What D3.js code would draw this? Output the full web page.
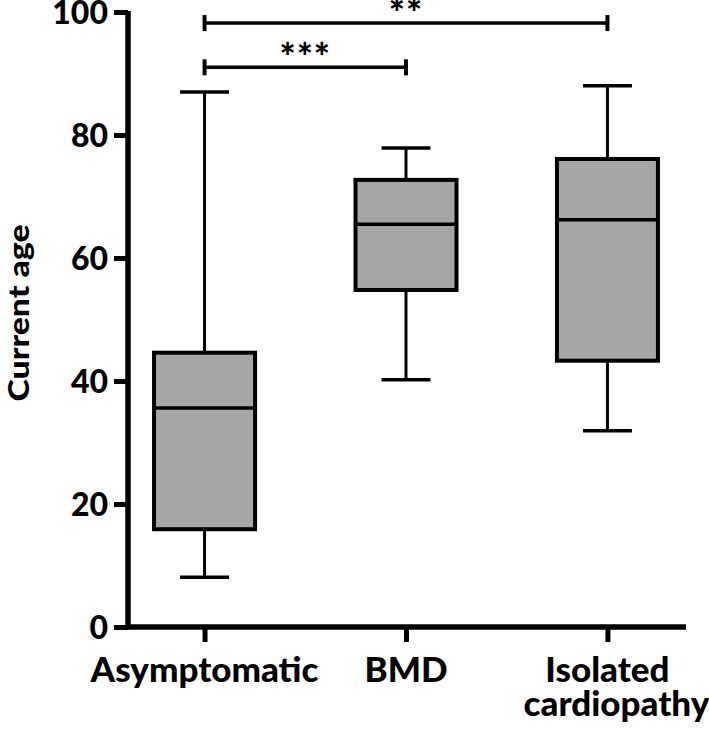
<!DOCTYPE html>
<html><head><meta charset="utf-8">
<script src="https://cdn.jsdelivr.net/npm/d3@7"></script>
<style>html,body{margin:0;padding:0;background:#fff;}svg{display:block;}
text{font-family:Lato,"Open Sans",sans-serif;font-weight:900;fill:#000;}</style>
</head><body><svg id="c" width="709" height="738"></svg>
<script>
const categories = ["Asymptomatic", "BMD", "Isolated cardiopathy"];
const whiskerLow = [8.1, 40.2, 31.9];
const q1 = [15.9, 54.8, 43.3];
const median = [35.6, 65.5, 66.2];
const q3 = [44.6, 72.7, 76.1];
const whiskerHigh = [87.0, 77.9, 88.0];
const yTicks = [0, 20, 40, 60, 80, 100];
const brackets = [
  {from: "Asymptomatic", to: "Isolated cardiopathy", y: 98.2, label: "**"},
  {from: "Asymptomatic", to: "BMD", y: 91.0, label: "***"}
];

const svg = d3.select("#c");
const y = d3.scaleLinear().domain([0, 100]).range([627, 12]);
const x = d3.scalePoint().domain(categories).range([128, 684]).padding(0.38);

// y axis
const ya = svg.append("g").attr("transform", "translate(128,0)")
  .call(d3.axisLeft(y).tickValues(yTicks).tickSize(14).tickPadding(6));
ya.select(".domain").attr("stroke", "#000").attr("stroke-width", 5.5)
  .attr("d", `M0,${y(0)+2}V${y(100)-1}`);
ya.selectAll(".tick line").attr("stroke", "#000").attr("stroke-width", 5);
ya.selectAll(".tick text").attr("font-size", 32).attr("dy", "0.36em").attr("x", -20);

// x axis
const xa = svg.append("g").attr("transform", `translate(0,${y(0)})`)
  .call(d3.axisBottom(x).tickSize(15).tickFormat(""));
xa.select(".domain").attr("stroke", "#000").attr("stroke-width", 5.5)
  .attr("d", `M126,0H686`);
xa.selectAll(".tick line").attr("stroke", "#000").attr("stroke-width", 5);

// x labels
const xl = svg.append("g");
categories.forEach((c, i) => {
  const parts = c === "Isolated cardiopathy" ? ["Isolated", "cardiopathy"] : [c];
  parts.forEach((p, j) => {
    xl.append("text").attr("x", x(c) + (j === 1 ? 9 : 0)).attr("y", 682 + j * 34)
      .attr("text-anchor", "middle").attr("font-size", 35).text(p);
  });
});

// y label
svg.append("text").attr("transform", "translate(29,313) rotate(-90)")
  .attr("text-anchor", "middle").attr("font-size", 28)
  .attr("textLength", 177).attr("lengthAdjust", "spacingAndGlyphs").text("Current age");

// boxes
const bw = 101, cw = 49;
const g = svg.append("g");
categories.forEach((c, i) => {
  const cx = x(c);
  g.append("line").attr("x1", cx).attr("x2", cx).attr("y1", y(whiskerHigh[i])).attr("y2", y(q3[i]))
    .attr("stroke", "#000").attr("stroke-width", 3);
  g.append("line").attr("x1", cx).attr("x2", cx).attr("y1", y(q1[i])).attr("y2", y(whiskerLow[i]))
    .attr("stroke", "#000").attr("stroke-width", 3);
  [whiskerHigh[i], whiskerLow[i]].forEach(v => {
    g.append("line").attr("x1", cx - cw/2).attr("x2", cx + cw/2).attr("y1", y(v)).attr("y2", y(v))
      .attr("stroke", "#000").attr("stroke-width", 3.5);
  });
  g.append("rect").attr("x", cx - bw/2).attr("width", bw).attr("y", y(q3[i])).attr("height", y(q1[i]) - y(q3[i]))
    .attr("fill", "#a6a6a6").attr("stroke", "#000").attr("stroke-width", 4);
  g.append("line").attr("x1", cx - bw/2).attr("x2", cx + bw/2).attr("y1", y(median[i])).attr("y2", y(median[i]))
    .attr("stroke", "#000").attr("stroke-width", 3.5);
});

// brackets
const bg = svg.append("g");
brackets.forEach(b => {
  const x1 = x(b.from), x2 = x(b.to), yy = y(b.y);
  bg.append("line").attr("x1", x1).attr("x2", x2).attr("y1", yy).attr("y2", yy)
    .attr("stroke", "#000").attr("stroke-width", 3.5);
  [x1, x2].forEach(xx => bg.append("line").attr("x1", xx).attr("x2", xx).attr("y1", yy - 8).attr("y2", yy + 8)
    .attr("stroke", "#000").attr("stroke-width", 4));
  bg.append("text").attr("x", (x1 + x2) / 2).attr("y", yy + 4).attr("text-anchor", "middle")
    .attr("font-size", 38).attr("letter-spacing", 1).text(b.label);
});
</script></body></html>
